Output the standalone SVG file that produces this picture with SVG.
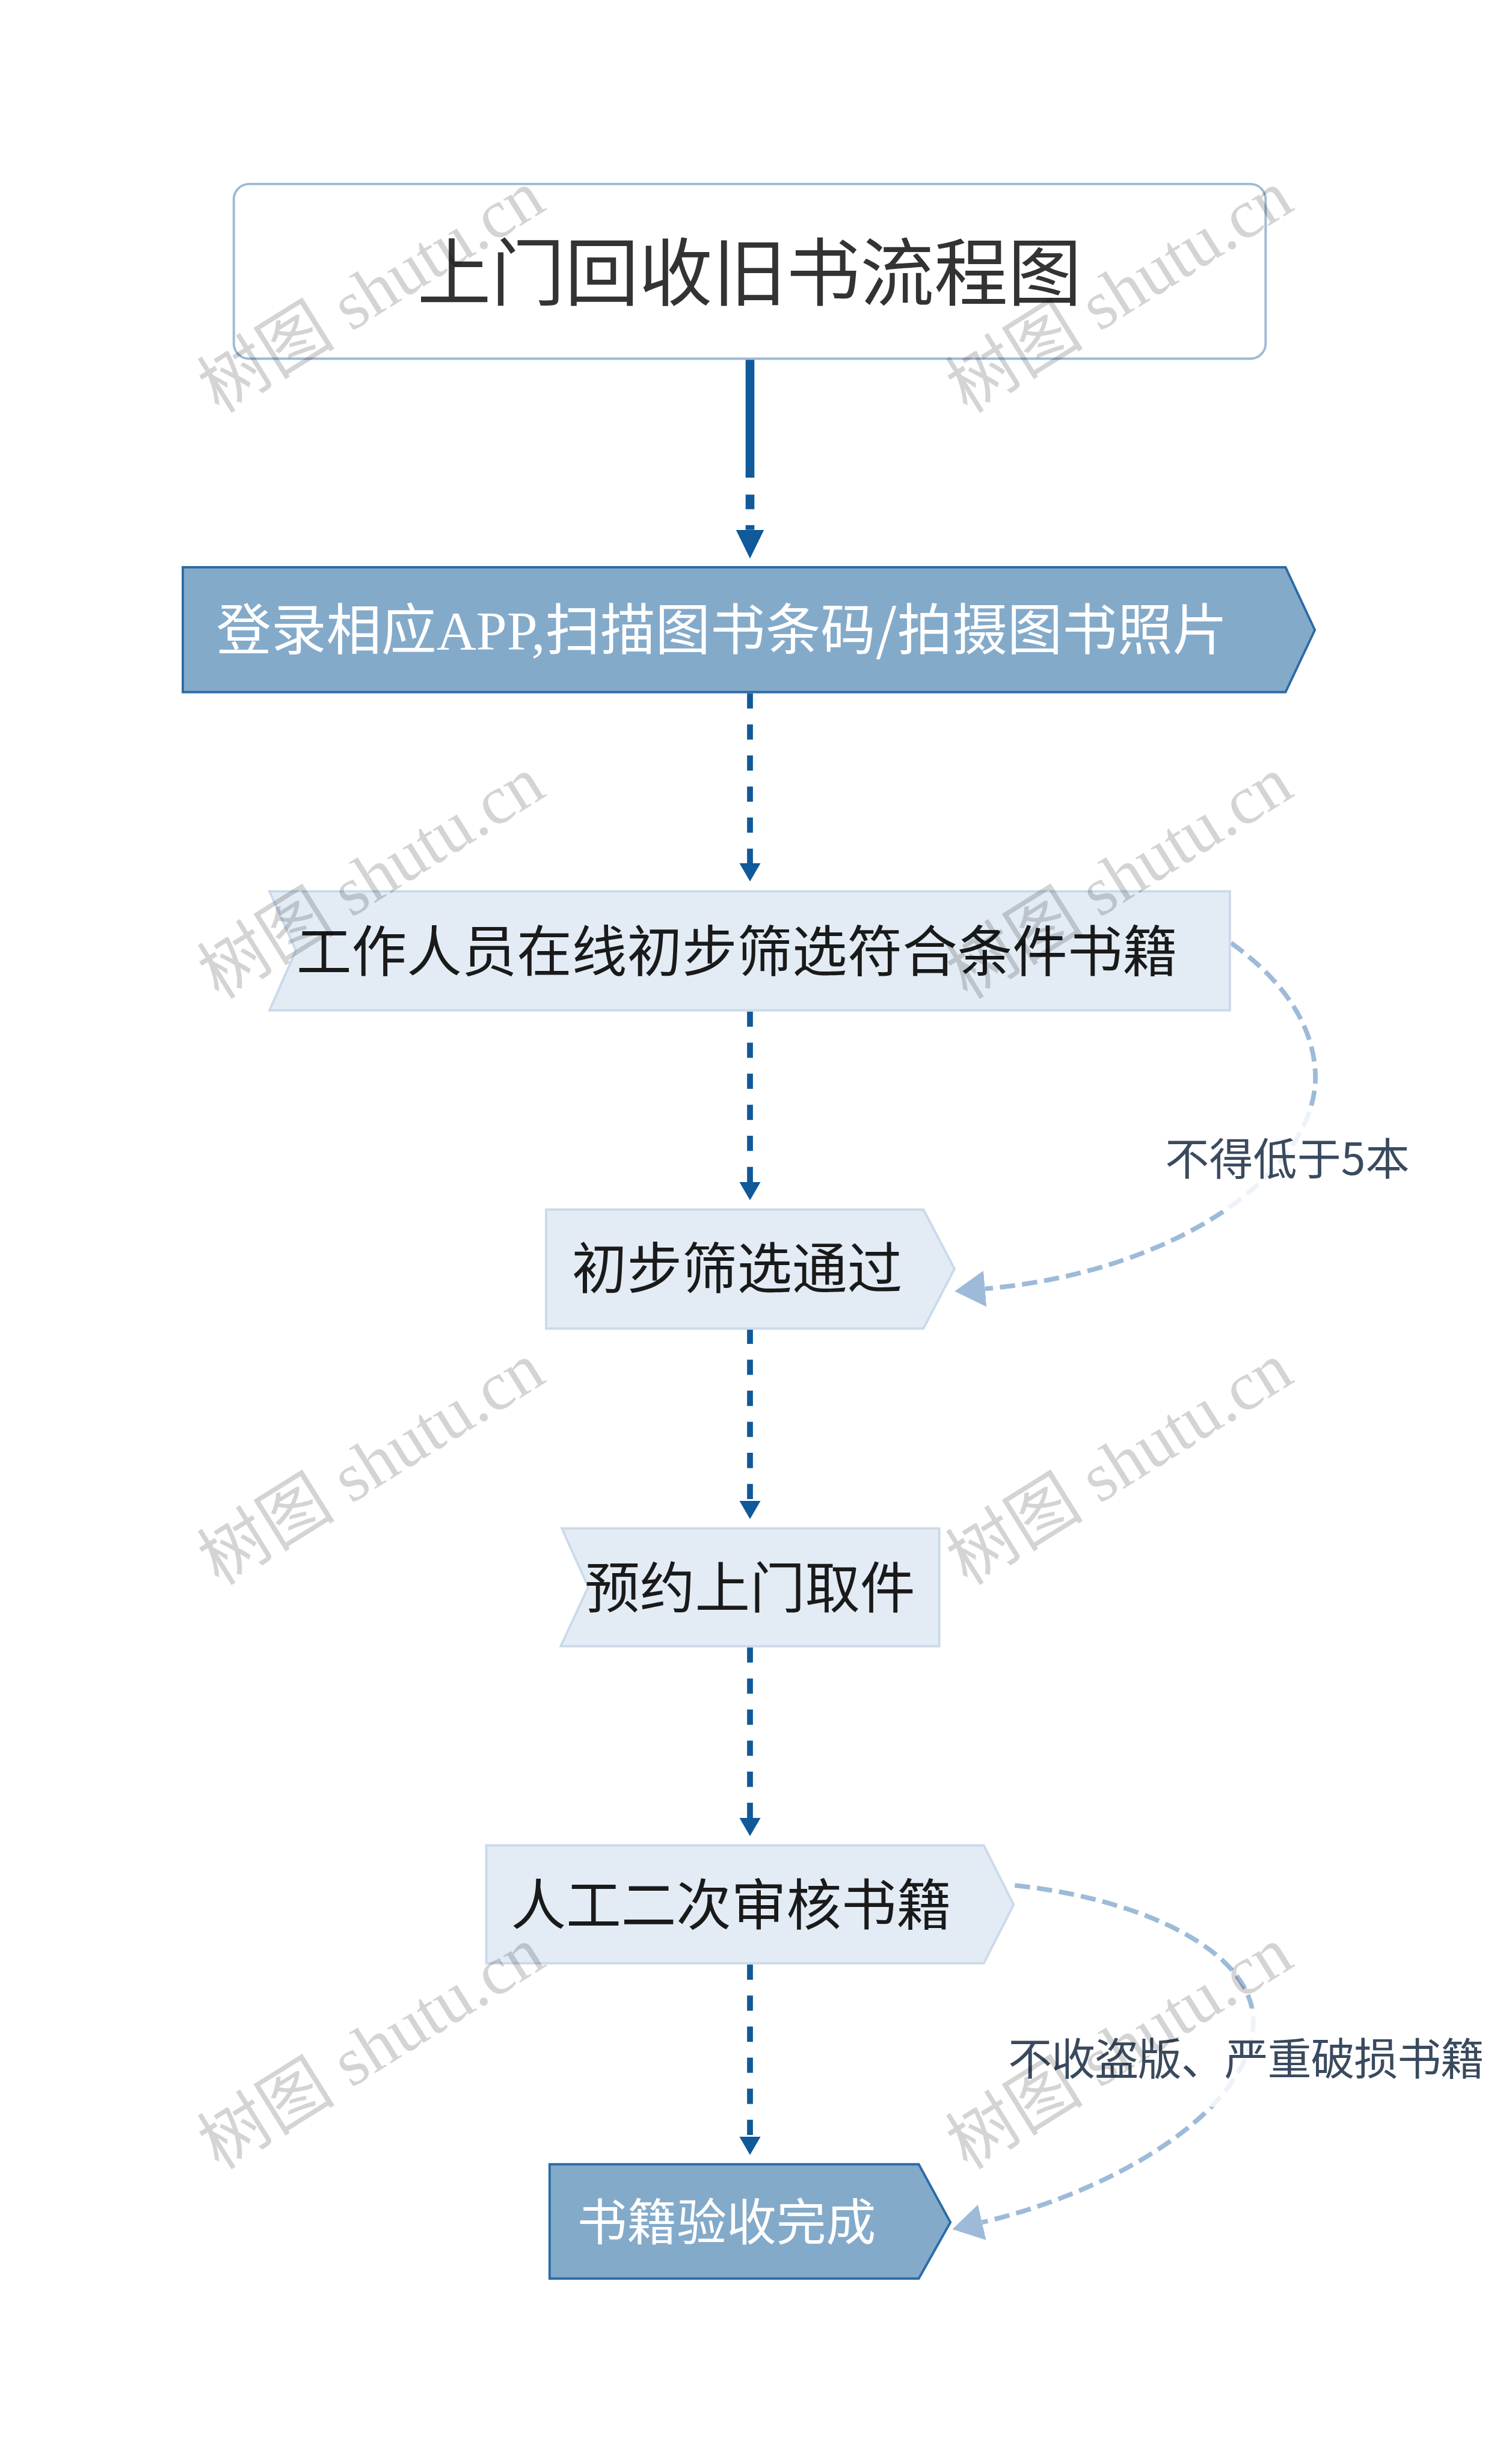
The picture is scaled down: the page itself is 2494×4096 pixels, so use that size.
<svg xmlns="http://www.w3.org/2000/svg" width="2494" height="4096" viewBox="0 0 2494 4096">
<defs>
<style>
.cjk{font-family:'Noto Sans CJK SC','Microsoft YaHei',sans-serif;}
.ser{font-family:'Liberation Serif','Noto Sans CJK SC',serif;}
.light{fill:#E3ECF5;stroke:#CBDAEA;stroke-width:4;}
.dark{fill:#84AACA;stroke:#2C6BA6;stroke-width:4;}
.tblack{fill:#1a1a1a;font-size:94px;text-anchor:middle;}
.twhite{fill:#ffffff;text-anchor:middle;}
.lbl{fill:#3a4a5e;font-size:75px;text-anchor:middle;}
.conn{fill:none;stroke:#10599A;stroke-width:10;stroke-dasharray:26 27;}
.loop{fill:none;stroke:#9DBBD8;stroke-width:8;stroke-dasharray:26 12;}
.wm{fill:#000;fill-opacity:0.17;font-size:118px;}
</style>
<marker id="arrD" viewBox="0 0 31 36" refX="0" refY="18" markerWidth="31" markerHeight="36" markerUnits="userSpaceOnUse" orient="auto">
<path d="M0,0 L31,18 L0,36 Z" fill="#10599A"/>
</marker>
<marker id="arrD1" viewBox="0 0 49 48" refX="0" refY="24" markerWidth="49" markerHeight="48" markerUnits="userSpaceOnUse" orient="auto">
<path d="M0,0 L49,24 L0,48 Z" fill="#10599A"/>
</marker>
<marker id="arrL" viewBox="0 0 52 62" refX="0" refY="31" markerWidth="52" markerHeight="62" markerUnits="userSpaceOnUse" orient="auto">
<path d="M0,0 L52,31 L0,62 Z" fill="#9DBBD8"/>
</marker>
</defs>
<rect x="0" y="0" width="2494" height="4096" fill="#ffffff"/>
<g transform="scale(0.97422)">

<g id="connectors">
<path d="M1280 612 V815 M1280 844 V869 M1280 896 V904" fill="none" stroke="#10599A" stroke-width="15" marker-end="url(#arrD1)"/>
<path class="conn" d="M1280 1183 V1473" marker-end="url(#arrD)"/>
<path class="conn" d="M1280 1726 V2017" marker-end="url(#arrD)"/>
<path class="conn" d="M1280 2267 V2561" marker-end="url(#arrD)"/>
<path class="conn" d="M1280 2811 V3102" marker-end="url(#arrD)"/>
<path class="conn" d="M1280 3352 V3646" marker-end="url(#arrD)"/>
<path class="loop" d="M2101 1609 C2200 1680 2245 1760 2245 1840 C2242 2005 2000 2172 1681 2199" marker-end="url(#arrL)"/>
<path class="loop" d="M1732 3217 C1950 3240 2140 3330 2139 3450 C2138 3600 1900 3740 1676 3792" marker-end="url(#arrL)"/>
<g id="label-1">
<rect x="1985" y="1890" width="425" height="175" fill="#ffffff" fill-opacity="0.82"/>
<text class="cjk lbl" x="2197" y="2005" textLength="417">不得低于5本</text>
</g>
<g id="label-2">
<rect x="1715" y="3427" width="825" height="168" fill="#ffffff" fill-opacity="0.82"/>
<text class="cjk lbl" x="2127" y="3540" textLength="813">不收盗版、严重破损书籍</text>
</g>
</g>

<g id="node-title">
<rect x="399" y="314" width="1761" height="298" rx="26" ry="26" fill="#ffffff" stroke="#9DBAD6" stroke-width="4"/>
<text class="cjk" x="1279" y="511" font-size="126" fill="#333333" text-anchor="middle">上门回收旧书流程图</text>
</g>

<g id="node-1">
<path class="dark" d="M312 968 H2194 L2244 1075 L2194 1181 H312 Z"/>
<text class="cjk twhite" x="1232" y="1109" font-size="94">登录相应<tspan class="ser">APP,</tspan>扫描图书条码/拍摄图书照片</text>
</g>

<g id="node-2">
<path class="light" d="M460 1521 H2099 V1724 H460 L505 1622 Z"/>
<text class="cjk tblack" x="1258" y="1658">工作人员在线初步筛选符合条件书籍</text>
</g>

<g id="node-3">
<path class="light" d="M932 2064 H1576 L1629 2165 L1576 2267 H932 Z"/>
<text class="cjk tblack" x="1258" y="2199">初步筛选通过</text>
</g>

<g id="node-4">
<path class="light" d="M959 2608 H1603 V2809 H957 L1004 2708 Z"/>
<text class="cjk tblack" x="1280" y="2744">预约上门取件</text>
</g>

<g id="node-5">
<path class="light" d="M830 3149 H1679 L1730 3250 L1679 3350 H830 Z"/>
<text class="cjk tblack" x="1248" y="3285">人工二次审核书籍</text>
</g>

<g id="node-6">
<path class="dark" d="M938 3693 H1568 L1622 3792 L1568 3888 H938 Z"/>
<text class="cjk twhite" x="1240" y="3823" font-size="85">书籍验收完成</text>
</g>

<g id="watermarks">
<text class="wm ser" transform="translate(374,707) rotate(-32)">树图 shutu.cn</text>
<text class="wm ser" transform="translate(1651,707) rotate(-32)">树图 shutu.cn</text>
<text class="wm ser" transform="translate(374,1707) rotate(-32)">树图 shutu.cn</text>
<text class="wm ser" transform="translate(1651,1707) rotate(-32)">树图 shutu.cn</text>
<text class="wm ser" transform="translate(374,2707) rotate(-32)">树图 shutu.cn</text>
<text class="wm ser" transform="translate(1651,2707) rotate(-32)">树图 shutu.cn</text>
<text class="wm ser" transform="translate(374,3704) rotate(-32)">树图 shutu.cn</text>
<text class="wm ser" transform="translate(1651,3704) rotate(-32)">树图 shutu.cn</text>
</g>

</g>
</svg>
